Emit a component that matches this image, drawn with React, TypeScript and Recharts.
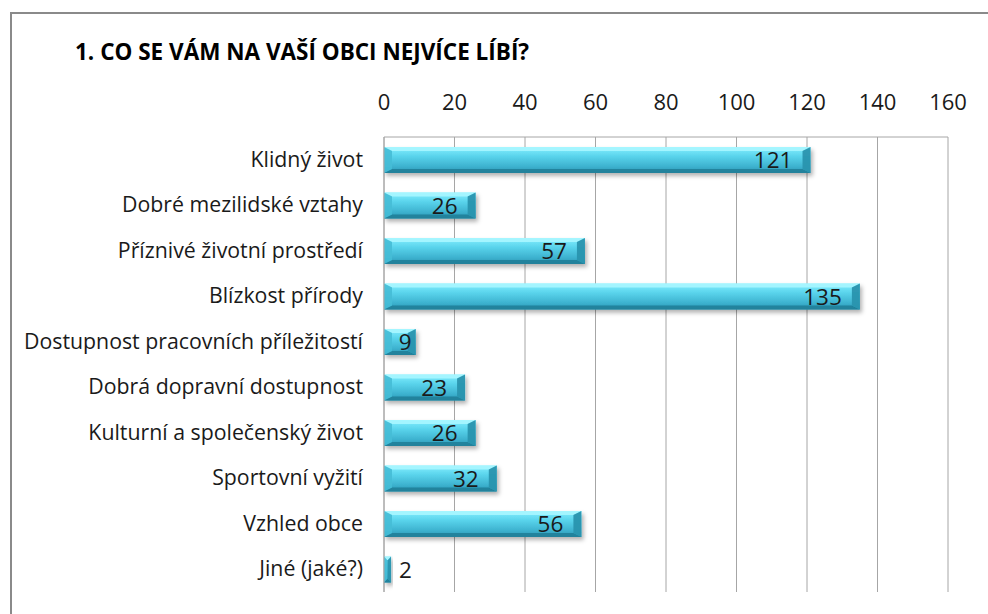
import React from 'react';
import { BarChart, Bar, XAxis, YAxis, CartesianGrid, LabelList } from 'recharts';

const categories = [
  'Klidný život',
  'Dobré mezilidské vztahy',
  'Příznivé životní prostředí',
  'Blízkost přírody',
  'Dostupnost pracovních příležitostí',
  'Dobrá dopravní dostupnost',
  'Kulturní a společenský život',
  'Sportovní vyžití',
  'Vzhled obce',
  'Jiné (jaké?)',
];
const values = [121, 26, 57, 135, 9, 23, 26, 32, 56, 2];
const xTicks = [0, 20, 40, 60, 80, 100, 120, 140, 160];
const title = '1. CO SE VÁM NA VAŠÍ OBCI NEJVÍCE LÍBÍ?';

const data = categories.map((name, i) => ({ name, value: values[i] }));

const FONT = "'Open Sans', 'Noto Sans', sans-serif";

const BarShape = (props: any) => {
  const { x, y, width, height } = props;
  if (!width || width <= 0) return null;
  const b = Math.min(8, width / 2);
  const t = Math.min(4, height / 2);
  const w = width;
  const h = height;
  return (
    <g filter="url(#barShadow)">
      <rect x={x} y={y} width={w} height={h} fill="url(#barGrad)" />
      <polygon points={`${x},${y} ${x + w},${y} ${x + w - b},${y + t} ${x + b},${y + t}`} fill="#a8f6ff" opacity={0.9} />
      <polygon points={`${x},${y + h} ${x + w},${y + h} ${x + w - b},${y + h - t} ${x + b},${y + h - t}`} fill="#1f7f99" opacity={0.9} />
      <polygon points={`${x},${y} ${x + b},${y + t} ${x + b},${y + h - t} ${x},${y + h}`} fill="#45bdd6" opacity={0.9} />
      <polygon points={`${x + w},${y} ${x + w - b},${y + t} ${x + w - b},${y + h - t} ${x + w},${y + h}`} fill="#2a93ae" opacity={0.95} />
    </g>
  );
};

const ValueLabel = (props: any) => {
  const { x, y, width, height, value } = props;
  const text = String(value);
  const tw = text.length * 12.9;
  const baseline = y + height / 2 + 8;
  let tx: number;
  if (width < tw + 10) {
    tx = x + width + 8;
  } else {
    tx = Math.min(x + width - 4, Math.max(x + width - 18, x + 16 + tw)) - tw;
  }
  return (
    <text x={tx} y={baseline} textAnchor="start" fontFamily={FONT} fontSize={22.5} fill="#1a1a1a">
      {text}
    </text>
  );
};

const XTick = (props: any) => {
  const { x, y, payload } = props;
  return (
    <text x={x} y={y} textAnchor="middle" fontFamily={FONT} fontSize={22} fill="#1a1a1a">
      {payload.value}
    </text>
  );
};

const YTick = (props: any) => {
  const { x, y, payload } = props;
  return (
    <text x={x} y={y + 7} textAnchor="end" fontFamily={FONT} fontSize={21.3} fill="#1a1a1a">
      {payload.value}
    </text>
  );
};

export default function App() {
  return (
    <div style={{ position: 'absolute', left: 0, top: 0, width: 988, height: 614, overflow: 'hidden', background: '#fff' }}>
      <div
        style={{
          position: 'absolute',
          left: 10,
          top: 12,
          width: 1100,
          height: 700,
          borderTop: '2px solid #8a8a8a',
          borderLeft: '2px solid #8a8a8a',
        }}
      />
      <div
        style={{
          position: 'absolute',
          left: 75,
          top: 37,
          fontFamily: FONT,
          fontWeight: 700,
          fontSize: 22.5,
          color: '#000',
          whiteSpace: 'nowrap',
          lineHeight: '30px',
        }}
      >
        {title}
      </div>
      <div style={{ position: 'absolute', left: 0, top: 0 }}>
        <BarChart
          width={988}
          height={614}
          data={data}
          layout="vertical"
          margin={{ top: 100, right: 40, bottom: 22, left: 0 }}
          barSize={26}
        >
          <defs>
            <linearGradient id="barGrad" x1="0" y1="0" x2="0" y2="1">
              <stop offset="0" stopColor="#86efff" />
              <stop offset="0.35" stopColor="#5ad4ec" />
              <stop offset="0.75" stopColor="#3db2cf" />
              <stop offset="1" stopColor="#2c96b3" />
            </linearGradient>
            <filter id="barShadow" x="-10%" y="-30%" width="130%" height="180%">
              <feDropShadow dx="2" dy="3" stdDeviation="2" floodColor="#000" floodOpacity="0.3" />
            </filter>
          </defs>
          <CartesianGrid horizontal={false} stroke="#a6a6a6" />
          <XAxis
            type="number"
            orientation="top"
            domain={[0, 160]}
            ticks={xTicks}
            height={37}
            tickSize={0}
            tickMargin={27}
            tick={<XTick />}
            axisLine={{ stroke: '#a6a6a6' }}
            interval={0}
          />
          <YAxis
            type="category"
            dataKey="name"
            width={384}
            tickSize={0}
            tickMargin={21}
            tick={<YTick />}
            axisLine={{ stroke: '#a6a6a6' }}
            interval={0}
          />
          <Bar dataKey="value" shape={<BarShape />} isAnimationActive={false}>
            <LabelList dataKey="value" content={<ValueLabel />} />
          </Bar>
        </BarChart>
      </div>
    </div>
  );
}
